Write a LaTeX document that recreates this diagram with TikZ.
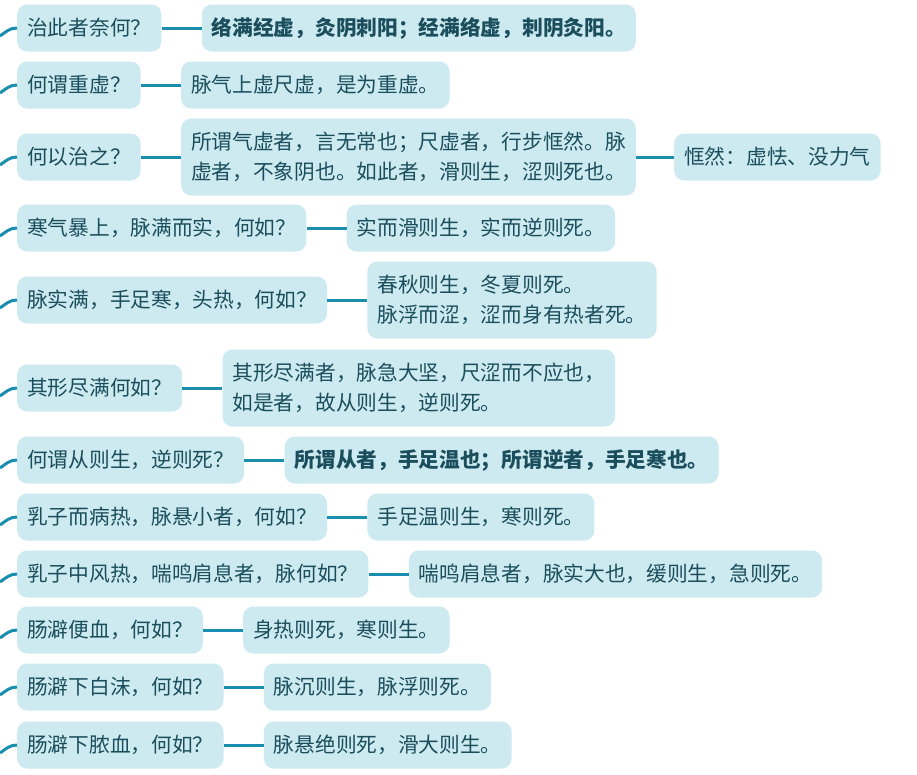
\documentclass[tikz,border=0pt]{standalone}
\usepackage{fontspec}
\setmainfont{Noto Sans CJK SC}
\usetikzlibrary{positioning}
\definecolor{Ink}{HTML}{1A4E5C}
\definecolor{Wire}{HTML}{1A8EAE}
\definecolor{Pale}{HTML}{CDEAF0}
\tikzset{
  ask/.style={fill=Pale,rounded corners=10pt,text=Ink,inner xsep=10pt,inner ysep=0pt,minimum height=47pt,anchor=west,font=\fontsize{20.7}{30}\selectfont},
  reply/.style={ask,align=left},
  tall/.style={minimum height=77pt},
  link/.style={Wire,line width=3pt},
}

\begin{document}
\begin{tikzpicture}[x=1pt,y=-1pt]
      \useasboundingbox (0,0) rectangle (917,774);

      % questions
      \node[ask] (q1) at (17,28) {治此者奈何？};
      \node[ask] (q2) at (17,85) {何谓重虚？};
      \node[ask] (q3) at (17,157) {何以治之？};
      \node[ask] (q4) at (17,228) {寒气暴上，脉满而实，何如？};
      \node[ask] (q5) at (17,300) {脉实满，手足寒，头热，何如？};
      \node[ask] (q6) at (17,388) {其形尽满何如？};
      \node[ask] (q7) at (17,460) {何谓从则生，逆则死？};
      \node[ask] (q8) at (17,517) {乳子而病热，脉悬小者，何如？};
      \node[ask] (q9) at (17,574) {乳子中风热，喘鸣肩息者，脉何如？};
      \node[ask] (q10) at (17,630) {肠澼便血，何如？};
      \node[ask] (q11) at (17,687) {肠澼下白沫，何如？};
      \node[ask] (q12) at (17,745) {肠澼下脓血，何如？};

      % answers
      \node[reply,right=40pt of q1] (a1) {\bfseries 络满经虚，灸阴刺阳；经满络虚，刺阴灸阳。};
      \node[reply,right=40pt of q2] (a2) {脉气上虚尺虚，是为重虚。};
      \node[reply,tall,right=40pt of q3] (a3) {所谓气虚者，言无常也；尺虚者，行步恇然。脉\\虚者，不象阴也。如此者，滑则生，涩则死也。};
      \node[reply,right=38pt of a3] (n3) {恇然：虚怯、没力气};
      \node[reply,right=40pt of q4] (a4) {实而滑则生，实而逆则死。};
      \node[reply,tall,right=40pt of q5] (a5) {春秋则生，冬夏则死。\\脉浮而涩，涩而身有热者死。};
      \node[reply,tall,right=40pt of q6] (a6) {其形尽满者，脉急大坚，尺涩而不应也，\\如是者，故从则生，逆则死。};
      \node[reply,right=40pt of q7] (a7) {\bfseries 所谓从者，手足温也；所谓逆者，手足寒也。};
      \node[reply,right=40pt of q8] (a8) {手足温则生，寒则死。};
      \node[reply,right=40pt of q9] (a9) {喘鸣肩息者，脉实大也，缓则生，急则死。};
      \node[reply,right=40pt of q10] (a10) {身热则死，寒则生。};
      \node[reply,right=40pt of q11] (a11) {脉沉则生，脉浮则死。};
      \node[reply,right=40pt of q12] (a12) {脉悬绝则死，滑大则生。};

      % stubs from the trunk
      \foreach \i/\y in {1/28,2/85,3/157,4/228,5/300,6/388,7/460,8/517,9/574,10/630,11/687,12/745}{
        \coordinate (s\i) at (0,\y+8);
        \draw[link] (s\i) to[out=35,in=180] (q\i.west);
        \draw[link] (q\i) -- (a\i);
      }
      \draw[link] (a3) -- (n3);
    \end{tikzpicture}
\end{document}
